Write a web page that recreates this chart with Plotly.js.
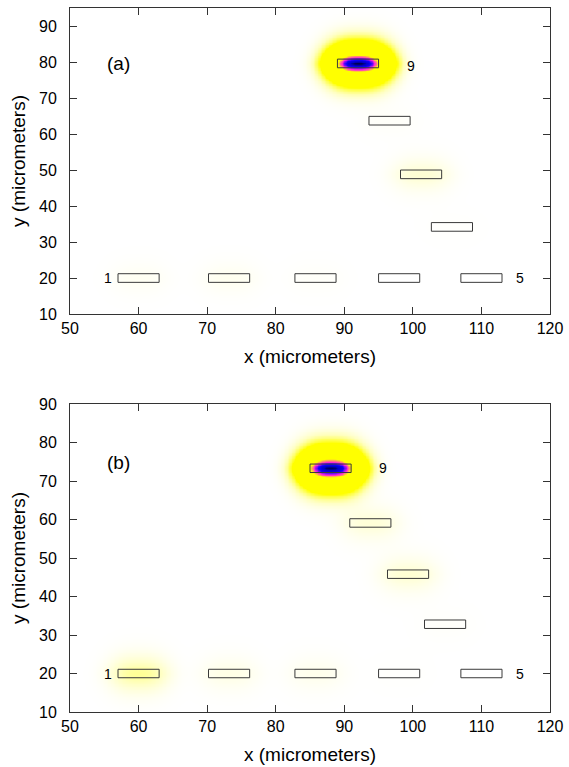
<!DOCTYPE html>
<html>
<head>
<meta charset="utf-8">
<script src="https://cdn.plot.ly/plotly-3.0.1.min.js"></script>
<style>html,body{margin:0;padding:0;background:#fff}#chart{width:569px;height:767px}</style>
</head>
<body>
<div id="chart"></div>
<script>
// Electrode centres (micrometers) and glow intensity per electrode
const electrodeLabels = ["1","2","3","4","5","6","7","8","9"];
const electrodeX_a = [60, 73.2, 85.8, 98, 110, 96.6, 101.2, 105.7, 92];
const electrodeY_a = [20, 20, 20, 20, 20, 63.7, 48.8, 34.2, 79.6];
const glow_a       = [0.008, 0.01, 0.004, 0, 0, 0.004, 0.028, 0.002, 1.0];
const electrodeX_b = [60, 73.2, 85.8, 98, 110, 93.8, 99.3, 104.7, 88];
const electrodeY_b = [20, 20, 20, 20, 20, 59.1, 45.8, 32.8, 73.3];
const glow_b       = [0.06, 0.016, 0.012, 0.002, 0, 0.025, 0.028, 0.003, 1.0];
const xTicks = [50, 60, 70, 80, 90, 100, 110, 120];
const yTicks = [10, 20, 30, 40, 50, 60, 70, 80, 90];

// sizes / styles
const rectW = 6, rectH_a = 2.4, rectH_b = 2.2;
const sx = 4.3, sy = 4.3, px = 2.6, py = 1.6;

function field(ex, ey, amp, xr, yr, step) {
  const xs = [], ys = [], z = [];
  for (let x = xr[0]; x <= xr[1] + 1e-9; x += step) xs.push(x);
  for (let y = yr[0]; y <= yr[1] + 1e-9; y += step) ys.push(y);
  for (const y of ys) {
    const row = [];
    for (const x of xs) {
      let v = 0;
      for (let i = 0; i < ex.length; i++) {
        if (!amp[i]) continue;
        const u = Math.abs(x - ex[i]) / sx;
        const w = Math.abs(y - ey[i]) / sy;
        v += amp[i] * Math.exp(-(Math.pow(u, px) + Math.pow(w, py)));
      }
      row.push(Math.min(1, v));
    }
    z.push(row);
  }
  return {x: xs, y: ys, z: z};
}

const cscale = [[0, '#ffffff'], [0.04, '#ffffc0'], [0.13, '#ffff00'], [0.68, '#ffff00'], [0.8, '#ff20e0'],
                [0.9, '#1000ff'], [0.97, '#0000c8'], [1, '#000050']];

function heat(ex, ey, amp, yr, xa, ya) {
  const f = field(ex, ey, amp, [50, 120], yr, 0.2);
  return {type: 'heatmap', x: f.x, y: f.y, z: f.z, zmin: 0, zmax: 1, colorscale: cscale,
          showscale: false, hoverinfo: 'skip', xaxis: xa, yaxis: ya, zsmooth: 'best'};
}

function rects(ex, ey, h, xa, ya) {
  const xs = [], ys = [];
  for (let i = 0; i < ex.length; i++) {
    const x0 = ex[i] - rectW / 2, x1 = ex[i] + rectW / 2, y0 = ey[i] - h / 2, y1 = ey[i] + h / 2;
    xs.push(x0, x1, x1, x0, x0, null);
    ys.push(y0, y0, y1, y1, y0, null);
  }
  return {type: 'scatter', mode: 'lines', x: xs, y: ys, line: {color: '#3a3a3a', width: 1},
          hoverinfo: 'skip', showlegend: false, xaxis: xa, yaxis: ya};
}

const traces = [
  heat(electrodeX_a, electrodeY_a, glow_a, [10, 95], 'x', 'y'),
  rects(electrodeX_a, electrodeY_a, rectH_a, 'x', 'y'),
  heat(electrodeX_b, electrodeY_b, glow_b, [10, 90], 'x2', 'y2'),
  rects(electrodeX_b, electrodeY_b, rectH_b, 'x2', 'y2')
];

const font = {family: 'Liberation Sans, Arial, sans-serif', size: 16, color: '#000'};
function xax(anchor) {
  return {range: [50, 120], tickvals: xTicks, ticks: 'inside', ticklen: 7, tickcolor: '#333',
          showline: true, linecolor: '#333', linewidth: 1, mirror: 'ticks', showgrid: false, zeroline: false,
          anchor: anchor, title: {text: 'x (micrometers)', font: {size: 19}, standoff: 13}, tickfont: {size: 16}};
}
function yax(anchor, range, domain) {
  return {range: range, tickvals: yTicks, ticks: 'inside', ticklen: 7, tickcolor: '#333', domain: domain,
          showline: true, linecolor: '#333', linewidth: 1, mirror: 'ticks', showgrid: false, zeroline: false,
          ticklabelstandoff: 9,
          anchor: anchor, title: {text: 'y (micrometers)', font: {size: 19}, standoff: 8}, tickfont: {size: 16}};
}

function ann(xref, yref, x, y, text, size, xanchor) {
  return {xref: xref, yref: yref, x: x, y: y, text: text, showarrow: false,
          font: {size: size, color: '#000'}, xanchor: xanchor || 'center', yanchor: 'middle'};
}

const layout = {
  width: 569, height: 767,
  margin: {l: 70, r: 19, t: 8, b: 55},
  paper_bgcolor: '#fff', plot_bgcolor: '#fff',
  font: font, showlegend: false,
  xaxis: xax('y'),
  yaxis: yax('x', [10, 95], [0.5653, 1]),
  xaxis2: xax('y2'),
  yaxis2: yax('x2', [10, 90], [0, 0.4375]),
  annotations: [
    ann('x', 'y', 57, 79.7, '(a)', 19),
    ann('x', 'y', electrodeX_a[0] - 4.5, electrodeY_a[0], electrodeLabels[0], 14),
    ann('x', 'y', electrodeX_a[4] + 5.6, electrodeY_a[4], electrodeLabels[4], 14),
    ann('x', 'y', electrodeX_a[8] + 7.7, electrodeY_a[8] - 0.6, electrodeLabels[8], 14),
    ann('x2', 'y2', 57, 74.8, '(b)', 19),
    ann('x2', 'y2', electrodeX_b[0] - 4.5, electrodeY_b[0], electrodeLabels[0], 14),
    ann('x2', 'y2', electrodeX_b[4] + 5.6, electrodeY_b[4], electrodeLabels[4], 14),
    ann('x2', 'y2', electrodeX_b[8] + 7.7, electrodeY_b[8], electrodeLabels[8], 14)
  ]
};

Plotly.newPlot('chart', traces, layout, {staticPlot: true, displayModeBar: false});
</script>
</body>
</html>
